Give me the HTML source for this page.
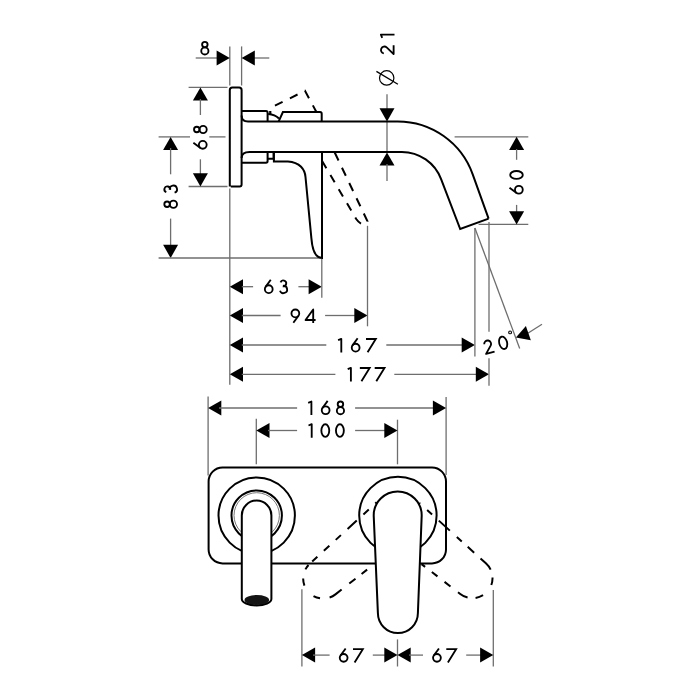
<!DOCTYPE html>
<html><head><meta charset="utf-8"><style>
html,body{margin:0;padding:0;background:#fff;}
svg{display:block;}
text{font-family:"Liberation Sans",sans-serif;fill:#000;}
</style></head><body>
<svg width="700" height="700" viewBox="0 0 700 700">
<line x1="229.80" y1="46.40" x2="229.80" y2="85.50" stroke="#6e6e6e" stroke-width="1.3"/>
<line x1="241.60" y1="46.40" x2="241.60" y2="85.50" stroke="#6e6e6e" stroke-width="1.3"/>
<line x1="229.80" y1="188.50" x2="229.80" y2="384.80" stroke="#6e6e6e" stroke-width="1.3"/>
<line x1="195.70" y1="58.00" x2="217.80" y2="58.00" stroke="#6e6e6e" stroke-width="1.3"/>
<polygon points="229.80,58.00 216.60,65.50 216.60,50.50" fill="#000"/>
<line x1="253.60" y1="58.00" x2="269.30" y2="58.00" stroke="#6e6e6e" stroke-width="1.3"/>
<polygon points="241.60,58.00 254.80,50.50 254.80,65.50" fill="#000"/>
<line x1="188.60" y1="87.40" x2="227.50" y2="87.40" stroke="#6e6e6e" stroke-width="1.3"/>
<line x1="188.60" y1="186.50" x2="227.50" y2="186.50" stroke="#6e6e6e" stroke-width="1.3"/>
<polygon points="200.40,87.40 207.90,100.60 192.90,100.60" fill="#000"/>
<line x1="200.40" y1="99.00" x2="200.40" y2="115.00" stroke="#6e6e6e" stroke-width="1.3"/>
<line x1="200.40" y1="159.30" x2="200.40" y2="175.00" stroke="#6e6e6e" stroke-width="1.3"/>
<polygon points="200.40,186.50 192.90,173.30 207.90,173.30" fill="#000"/>
<line x1="158.60" y1="136.90" x2="190.00" y2="136.90" stroke="#6e6e6e" stroke-width="1.3"/>
<line x1="209.30" y1="136.90" x2="225.50" y2="136.90" stroke="#6e6e6e" stroke-width="1.3"/>
<polygon points="170.60,136.90 178.10,150.10 163.10,150.10" fill="#000"/>
<line x1="170.60" y1="148.00" x2="170.60" y2="174.30" stroke="#6e6e6e" stroke-width="1.3"/>
<line x1="170.60" y1="218.60" x2="170.60" y2="247.00" stroke="#6e6e6e" stroke-width="1.3"/>
<polygon points="170.60,258.00 163.10,244.80 178.10,244.80" fill="#000"/>
<line x1="158.60" y1="258.00" x2="321.00" y2="258.00" stroke="#6e6e6e" stroke-width="1.3"/>
<polygon points="229.80,286.70 243.00,279.20 243.00,294.20" fill="#000"/>
<line x1="241.80" y1="286.70" x2="253.10" y2="286.70" stroke="#6e6e6e" stroke-width="1.3"/>
<line x1="298.40" y1="286.70" x2="309.80" y2="286.70" stroke="#6e6e6e" stroke-width="1.3"/>
<polygon points="321.80,286.70 308.60,294.20 308.60,279.20" fill="#000"/>
<line x1="321.80" y1="259.00" x2="321.80" y2="297.70" stroke="#6e6e6e" stroke-width="1.3"/>
<polygon points="229.80,315.50 243.00,308.00 243.00,323.00" fill="#000"/>
<line x1="241.80" y1="315.50" x2="280.60" y2="315.50" stroke="#6e6e6e" stroke-width="1.3"/>
<line x1="325.10" y1="315.50" x2="355.50" y2="315.50" stroke="#6e6e6e" stroke-width="1.3"/>
<polygon points="367.50,315.50 354.30,323.00 354.30,308.00" fill="#000"/>
<line x1="367.50" y1="225.80" x2="367.50" y2="326.30" stroke="#6e6e6e" stroke-width="1.3"/>
<polygon points="229.80,345.00 243.00,337.50 243.00,352.50" fill="#000"/>
<line x1="241.80" y1="345.00" x2="326.30" y2="345.00" stroke="#6e6e6e" stroke-width="1.3"/>
<line x1="386.30" y1="345.00" x2="462.90" y2="345.00" stroke="#6e6e6e" stroke-width="1.3"/>
<polygon points="474.90,345.00 461.70,352.50 461.70,337.50" fill="#000"/>
<polygon points="229.80,374.30 243.00,366.80 243.00,381.80" fill="#000"/>
<line x1="241.80" y1="374.30" x2="335.40" y2="374.30" stroke="#6e6e6e" stroke-width="1.3"/>
<line x1="394.30" y1="374.30" x2="477.00" y2="374.30" stroke="#6e6e6e" stroke-width="1.3"/>
<polygon points="489.00,374.30 475.80,381.80 475.80,366.80" fill="#000"/>
<line x1="474.90" y1="227.90" x2="474.90" y2="356.60" stroke="#6e6e6e" stroke-width="1.3"/>
<line x1="489.00" y1="222.00" x2="489.00" y2="331.70" stroke="#6e6e6e" stroke-width="1.3"/>
<line x1="489.00" y1="358.30" x2="489.00" y2="385.70" stroke="#6e6e6e" stroke-width="1.3"/>
<line x1="474.90" y1="227.90" x2="519.70" y2="348.50" stroke="#6e6e6e" stroke-width="1.3"/>
<line x1="527.80" y1="333.30" x2="542.00" y2="324.30" stroke="#6e6e6e" stroke-width="1.3"/>
<polygon points="515.90,337.50 525.90,326.07 530.83,340.24" fill="#000"/>
<circle cx="510.1" cy="332.4" r="1.4" fill="none" stroke="#000" stroke-width="1.1"/>
<line x1="454.60" y1="136.80" x2="528.30" y2="136.80" stroke="#6e6e6e" stroke-width="1.3"/>
<line x1="478.60" y1="224.40" x2="528.30" y2="224.40" stroke="#6e6e6e" stroke-width="1.3"/>
<polygon points="516.60,136.80 524.10,150.00 509.10,150.00" fill="#000"/>
<line x1="516.60" y1="149.00" x2="516.60" y2="159.80" stroke="#6e6e6e" stroke-width="1.3"/>
<line x1="516.60" y1="204.90" x2="516.60" y2="212.50" stroke="#6e6e6e" stroke-width="1.3"/>
<polygon points="516.60,224.40 509.10,211.20 524.10,211.20" fill="#000"/>
<line x1="387.00" y1="94.30" x2="387.00" y2="109.50" stroke="#6e6e6e" stroke-width="1.3"/>
<polygon points="387.00,121.40 379.50,108.20 394.50,108.20" fill="#000"/>
<polygon points="387.00,152.40 394.50,165.60 379.50,165.60" fill="#000"/>
<line x1="387.00" y1="164.00" x2="387.00" y2="181.00" stroke="#6e6e6e" stroke-width="1.3"/>
<line x1="387.00" y1="121.40" x2="387.00" y2="152.40" stroke="#6e6e6e" stroke-width="1.3"/>
<circle cx="386.7" cy="77.9" r="7.2" fill="none" stroke="#000" stroke-width="1.2"/>
<line x1="376.40" y1="71.40" x2="397.90" y2="84.30" stroke="#000" stroke-width="1.3"/>
<path d="M229.8,186.5 L229.8,90.1 Q229.8,87.6 232.3,87.6 L239.1,87.6 Q241.6,87.6 241.6,90.1 L241.6,184.5 Q241.6,186.5 239.6,186.5 L230.8,186.5" fill="none" stroke="#000" stroke-width="2.0" />
<path d="M241.6,111.1 L266,111.1 Q267.6,111.1 267.6,112.7 L267.6,121.4" fill="none" stroke="#000" stroke-width="2.0" />
<path d="M241.6,115.4 Q241.6,121.4 248,121.4 L397.8,121.4 A79.6,79.6 0 0 1 472.7,174.3 L488.6,218.6" fill="none" stroke="#000" stroke-width="2.0" />
<path d="M268.2,114 Q275,114.5 279,118.5" fill="none" stroke="#000" stroke-width="2.0" />
<path d="M270.3,111 L270.3,114" fill="none" stroke="#000" stroke-width="1.6" />
<path d="M278.7,121.4 L282.9,112.1 L320,112.1 Q321.7,112.1 321.7,113.8 L321.7,121.4" fill="none" stroke="#000" stroke-width="2.0" />
<path d="M241.6,158 Q241.6,151.9 249.6,151.9 L401.8,151.9 A42.1,42.1 0 0 1 441.1,179.15 L460.2,229 L488.6,218.6" fill="none" stroke="#000" stroke-width="2.0" />
<path d="M241.6,162.7 L266,162.7 Q267.6,162.7 267.6,161 L267.6,152" fill="none" stroke="#000" stroke-width="2.0" />
<path d="M268,158.7 L273.6,158.7 L273.6,152" fill="none" stroke="#000" stroke-width="2.0" />
<path d="M273.9,152 L273.9,161.4 L287.9,161.4 C300,162 305,170 305.5,177 L311.4,238.3 C312.4,251 315.5,257.9 322,257.9 L322,152" fill="none" stroke="#000" stroke-width="2.0" />
<path d="M270.3,114 L270.3,108 L305,90.8 L316.4,112" fill="none" stroke="#000" stroke-width="2.0" stroke-dasharray="8.5 8.2" stroke-dashoffset="5.5"/>
<path d="M322.1,160.9 L356.2,219 Q360,224.5 364.5,224.5" fill="none" stroke="#000" stroke-width="2.0" stroke-dasharray="8.4 8"/>
<path d="M334.7,152.5 L367.5,221.3 Q367,224.5 364.5,224.5" fill="none" stroke="#000" stroke-width="2.0" stroke-dasharray="8.9 8"/>
<line x1="208.10" y1="396.50" x2="208.10" y2="475.50" stroke="#6e6e6e" stroke-width="1.3"/>
<line x1="446.10" y1="396.90" x2="446.10" y2="475.00" stroke="#6e6e6e" stroke-width="1.3"/>
<polygon points="208.10,408.00 221.30,400.50 221.30,415.50" fill="#000"/>
<line x1="219.00" y1="408.00" x2="297.10" y2="408.00" stroke="#6e6e6e" stroke-width="1.3"/>
<line x1="355.10" y1="408.00" x2="434.00" y2="408.00" stroke="#6e6e6e" stroke-width="1.3"/>
<polygon points="446.10,408.00 432.90,415.50 432.90,400.50" fill="#000"/>
<line x1="256.30" y1="418.80" x2="256.30" y2="464.30" stroke="#6e6e6e" stroke-width="1.3"/>
<line x1="397.50" y1="419.70" x2="397.50" y2="464.30" stroke="#6e6e6e" stroke-width="1.3"/>
<polygon points="256.30,430.50 269.50,423.00 269.50,438.00" fill="#000"/>
<line x1="268.00" y1="430.50" x2="297.10" y2="430.50" stroke="#6e6e6e" stroke-width="1.3"/>
<line x1="355.10" y1="430.50" x2="386.00" y2="430.50" stroke="#6e6e6e" stroke-width="1.3"/>
<polygon points="397.50,430.50 384.30,438.00 384.30,423.00" fill="#000"/>
<path d="M222.6,467.5 L432,467.5 A14,14 0 0 1 446,481.5 L446,549.4 A14,14 0 0 1 432,563.4 L222.6,563.4 A14,14 0 0 1 208.6,549.4 L208.6,481.5 A14,14 0 0 1 222.6,467.5 Z" fill="none" stroke="#000" stroke-width="2.0" />
<circle cx="256.7" cy="515.6" r="38.2" fill="none" stroke="#000" stroke-width="2.0"/>
<circle cx="256.7" cy="515.6" r="25.2" fill="none" stroke="#000" stroke-width="2.0"/>
<circle cx="256.7" cy="515.4" r="22.7" fill="none" stroke="#777" stroke-width="1"/>
<path d="M241.8,599 L241.8,515.4 A14.8,14.8 0 0 1 271.4,515.4 L271.4,599 A14.8,6.4 0 0 1 241.8,599 Z" fill="#fff" stroke="#000" stroke-width="2"/>
<ellipse cx="256.8" cy="600" rx="12.3" ry="5.0" fill="#141414"/>
<circle cx="397.9" cy="515.5" r="38.7" fill="none" stroke="#000" stroke-width="2.0"/>
<path d="M381.43,497.90 L309.61,563.87 A20.0,20.0 0 0 0 335.45,594.36 L412.31,534.34" fill="none" stroke="#000" stroke-width="2.0" stroke-dasharray="0.00 6.47 1.86 8.84 7.30 9.04 12.47 9.04 7.04 8.66 7.45 8.83 7.01 5.13 5.29 9.51 7.12 14.12 6.89 9.62 14.49 9.73 7.88 7.71 7.03 107.72"/>
<path d="M413.66,497.80 L485.89,563.32 A20.0,20.0 0 0 1 460.24,593.98 L383.01,534.43" fill="none" stroke="#000" stroke-width="2.0" stroke-dasharray="0.00 7.55 1.23 9.41 6.67 9.11 14.88 9.42 6.68 8.03 8.71 8.57 15.22 8.07 7.55 13.32 7.96 7.97 11.01 9.50 7.51 8.94 7.10 8.49 4.49 98.89"/>
<path d="M377.9,613.1 L373.7,515.4 A24,24 0 0 1 421.7,515.4 L417.9,613.1 A20,20 0 0 1 377.9,613.1 Z" fill="#fff" stroke="#000" stroke-width="2"/>
<line x1="301.90" y1="589.30" x2="301.90" y2="666.50" stroke="#6e6e6e" stroke-width="1.3"/>
<line x1="397.50" y1="639.40" x2="397.50" y2="666.50" stroke="#6e6e6e" stroke-width="1.3"/>
<line x1="493.30" y1="590.00" x2="493.30" y2="666.50" stroke="#6e6e6e" stroke-width="1.3"/>
<polygon points="301.90,655.10 315.10,647.60 315.10,662.60" fill="#000"/>
<line x1="313.00" y1="655.10" x2="329.60" y2="655.10" stroke="#6e6e6e" stroke-width="1.3"/>
<line x1="372.80" y1="655.10" x2="385.00" y2="655.10" stroke="#6e6e6e" stroke-width="1.3"/>
<polygon points="397.50,655.10 384.30,662.60 384.30,647.60" fill="#000"/>
<polygon points="397.50,655.10 410.70,647.60 410.70,662.60" fill="#000"/>
<line x1="409.00" y1="655.10" x2="423.00" y2="655.10" stroke="#6e6e6e" stroke-width="1.3"/>
<line x1="466.20" y1="655.10" x2="482.00" y2="655.10" stroke="#6e6e6e" stroke-width="1.3"/>
<polygon points="493.30,655.10 480.10,662.60 480.10,647.60" fill="#000"/>
<g fill="none" stroke="#000" stroke-width="1.85" stroke-linejoin="round"><g transform="translate(204.85 55.40)"><circle cx="0" cy="-10.825" r="2.75"/><circle cx="0" cy="-4.475" r="3.6"/></g><g transform="translate(207.60 144.80) rotate(-90)"><circle cx="0" cy="-4.83" r="3.9"/><path d="M2.0,-14.2 L-3.153,-7.127"/></g><g transform="translate(207.60 129.50) rotate(-90)"><circle cx="0" cy="-10.825" r="2.75"/><circle cx="0" cy="-4.475" r="3.6"/></g><g transform="translate(177.90 204.20) rotate(-90)"><circle cx="0" cy="-10.825" r="2.75"/><circle cx="0" cy="-4.475" r="3.6"/></g><g transform="translate(177.90 189.35) rotate(-90)"><path d="M-2.75,-11.6 A2.925,2.925 0 1 1 -0.51,-7.72 M-0.36,-8.19 A3.675,3.675 0 1 1 -3.3,-3.29"/></g><g transform="translate(268.75 294.00)"><circle cx="0" cy="-4.83" r="3.9"/><path d="M2.0,-14.2 L-3.153,-7.127"/></g><g transform="translate(283.30 294.00)"><path d="M-2.75,-11.6 A2.925,2.925 0 1 1 -0.51,-7.72 M-0.36,-8.19 A3.675,3.675 0 1 1 -3.3,-3.29"/></g><g transform="translate(295.35 323.00)"><circle cx="0" cy="-9.57" r="3.9"/><path d="M-2.0,-0.2 L3.153,-7.273"/></g><g transform="translate(310.05 323.00)"><path d="M3.15,0 L3.15,-13.55 L-4.5,-3.0 L5.55,-3.0"/></g><g transform="translate(341.30 352.50)"><path d="M-3.2,-12.3 L0,-13.6 L0,0"/></g><g transform="translate(355.65 352.50)"><circle cx="0" cy="-4.83" r="3.9"/><path d="M2.0,-14.2 L-3.153,-7.127"/></g><g transform="translate(371.30 352.50)"><path stroke-linejoin="miter" d="M-5.3,-13.525 L4.5,-13.525 L-3.7,-0.3"/></g><g transform="translate(350.90 381.50)"><path d="M-3.2,-12.3 L0,-13.6 L0,0"/></g><g transform="translate(365.15 381.50)"><path stroke-linejoin="miter" d="M-5.3,-13.525 L4.5,-13.525 L-3.7,-0.3"/></g><g transform="translate(380.00 381.50)"><path stroke-linejoin="miter" d="M-5.3,-13.525 L4.5,-13.525 L-3.7,-0.3"/></g><g transform="translate(490.26 353.66) rotate(-15)"><path d="M-3.40,-10.675 A3.45,3.45 0 1 1 2.64,-7.855 L-4.1,-0.875 L4.7,-0.875"/></g><g transform="translate(505.01 349.80) rotate(-15)"><ellipse cx="0" cy="-7.2" rx="3.95" ry="6.3"/></g><g transform="translate(523.70 189.75) rotate(-90)"><circle cx="0" cy="-4.83" r="3.9"/><path d="M2.0,-14.2 L-3.153,-7.127"/></g><g transform="translate(523.70 174.95) rotate(-90)"><ellipse cx="0" cy="-7.2" rx="3.95" ry="6.3"/></g><g transform="translate(394.50 50.00) rotate(-90)"><path d="M-3.40,-10.675 A3.45,3.45 0 1 1 2.64,-7.855 L-4.1,-0.875 L4.7,-0.875"/></g><g transform="translate(394.50 34.60) rotate(-90)"><path d="M-3.2,-12.3 L0,-13.6 L0,0"/></g><g transform="translate(311.40 415.10)"><path d="M-3.2,-12.3 L0,-13.6 L0,0"/></g><g transform="translate(325.65 415.10)"><circle cx="0" cy="-4.83" r="3.9"/><path d="M2.0,-14.2 L-3.153,-7.127"/></g><g transform="translate(340.45 415.10)"><circle cx="0" cy="-10.825" r="2.75"/><circle cx="0" cy="-4.475" r="3.6"/></g><g transform="translate(311.70 437.80)"><path d="M-3.2,-12.3 L0,-13.6 L0,0"/></g><g transform="translate(325.30 437.80)"><ellipse cx="0" cy="-7.2" rx="3.95" ry="6.3"/></g><g transform="translate(339.90 437.80)"><ellipse cx="0" cy="-7.2" rx="3.95" ry="6.3"/></g><g transform="translate(343.65 662.70)"><circle cx="0" cy="-4.83" r="3.9"/><path d="M2.0,-14.2 L-3.153,-7.127"/></g><g transform="translate(358.30 662.70)"><path stroke-linejoin="miter" d="M-5.3,-13.525 L4.5,-13.525 L-3.7,-0.3"/></g><g transform="translate(436.95 662.70)"><circle cx="0" cy="-4.83" r="3.9"/><path d="M2.0,-14.2 L-3.153,-7.127"/></g><g transform="translate(451.60 662.70)"><path stroke-linejoin="miter" d="M-5.3,-13.525 L4.5,-13.525 L-3.7,-0.3"/></g></g>
</svg></body></html>
